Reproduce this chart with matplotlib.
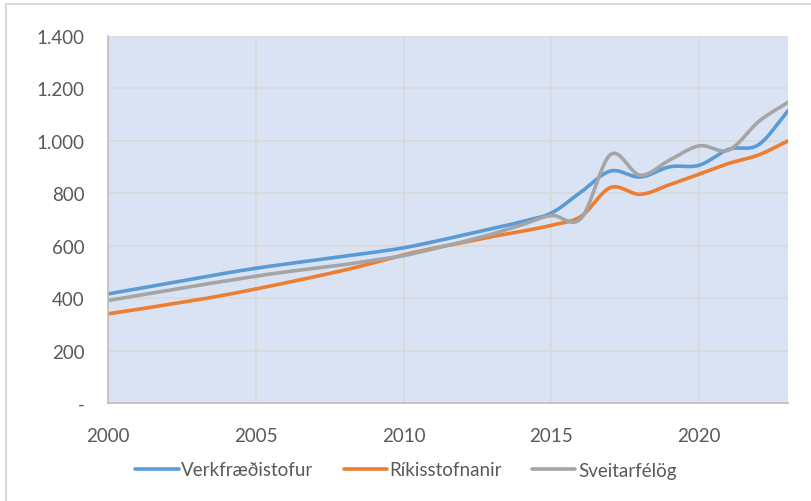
import numpy as np
import matplotlib
matplotlib.use("Agg")
import matplotlib.pyplot as plt
from matplotlib.ticker import FuncFormatter, MultipleLocator
from matplotlib.patches import Rectangle

years = list(range(2000, 2024))
verkfraedistofur = [416, 436, 456, 476, 496, 514, 530, 545, 560, 575, 592, 615, 640, 665, 692,
                    725, 805, 885, 862, 901, 907, 968, 985, 1115]
rikisstofnanir = [340, 357, 375, 393, 413, 435, 458, 482, 507, 535, 565, 590, 612, 635, 655,
                  678, 712, 822, 796, 833, 873, 914, 946, 1000]
sveitarfelog = [391, 410, 429, 448, 466, 484, 500, 514, 528, 545, 562, 588, 615, 645, 680,
                715, 704, 948, 869, 927, 981, 965, 1073, 1147]
series_names = ["Verkfræðistofur", "Ríkisstofnanir", "Sveitarfélög"]
colors = ["#5B9BD5", "#ED7D31", "#A5A5A5"]


def smooth(x, y, n=20):
    x = np.asarray(x, float)
    y = np.asarray(y, float)
    px = np.concatenate([[2 * x[0] - x[1]], x, [2 * x[-1] - x[-2]]])
    py = np.concatenate([[2 * y[0] - y[1]], y, [2 * y[-1] - y[-2]]])
    xs, ys = [], []
    for i in range(1, len(px) - 2):
        p0, p1, p2, p3 = px[i - 1], px[i], px[i + 1], px[i + 2]
        q0, q1, q2, q3 = py[i - 1], py[i], py[i + 1], py[i + 2]
        t = np.linspace(0, 1, n, endpoint=False)
        b1x = p1 + (p2 - p0) / 6
        b2x = p2 - (p3 - p1) / 6
        b1y = q1 + (q2 - q0) / 6
        b2y = q2 - (q3 - q1) / 6
        xs.append((1 - t) ** 3 * p1 + 3 * (1 - t) ** 2 * t * b1x + 3 * (1 - t) * t ** 2 * b2x + t ** 3 * p2)
        ys.append((1 - t) ** 3 * q1 + 3 * (1 - t) ** 2 * t * b1y + 3 * (1 - t) * t ** 2 * b2y + t ** 3 * q2)
    xs.append([x[-1]])
    ys.append([y[-1]])
    return np.concatenate(xs), np.concatenate(ys)


plt.rcParams['font.family'] = ['Lato', 'DejaVu Sans']

fig = plt.figure(figsize=(8.12, 5.02), dpi=100)
fig.patch.set_facecolor("white")
fig.patches.append(Rectangle((6 / 812, -0.1), 1.2, (502 - 5) / 502 + 0.1,
                             transform=fig.transFigure, fill=False,
                             edgecolor="#D9D9D9", linewidth=1.5))

ax = fig.add_axes([108 / 812, 1 - 404 / 502, (788 - 108) / 812, (404 - 37) / 502])
ax.set_facecolor("#DAE3F3")

for vals, name, c in zip([verkfraedistofur, rikisstofnanir, sveitarfelog], series_names, colors):
    sx, sy = smooth(years, vals)
    ax.plot(sx, sy, color=c, linewidth=2.6, label=name, solid_capstyle="round")

ax.set_xlim(2000, 2023)
ax.set_ylim(0, 1400)
ax.xaxis.set_major_locator(MultipleLocator(5))
ax.yaxis.set_major_locator(MultipleLocator(200))


def yfmt(v, pos):
    if v == 0:
        return "-"
    return f"{int(v):,}".replace(",", ".")


ax.yaxis.set_major_formatter(FuncFormatter(yfmt))
ax.grid(True, color="#D9D9D9", linewidth=1.2)
ax.set_axisbelow(True)
for s in ["top", "right"]:
    ax.spines[s].set_visible(False)
ax.spines["left"].set_color("#BFBFBF")
ax.spines["bottom"].set_color("#BFBFBF")
ax.spines["left"].set_linewidth(1.2)
ax.spines["bottom"].set_linewidth(1.2)
ax.tick_params(axis="both", length=0, labelsize=13.5, colors="#595959")
ax.tick_params(axis="y", pad=17)
ax.tick_params(axis="x", pad=17)

leg = fig.legend(loc="center", bbox_to_anchor=(0.5, 1 - 471 / 502), ncol=3, frameon=False,
                 fontsize=13.5, handlelength=2.3, handletextpad=0.15, columnspacing=1.6)
for t in leg.get_texts():
    t.set_color("#595959")

fig.savefig("out.png", dpi=100)
